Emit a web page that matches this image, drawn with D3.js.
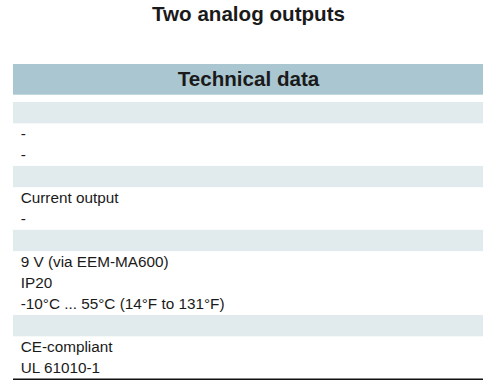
<!DOCTYPE html>
<html>
<head>
<meta charset="utf-8">
<script src="https://cdn.jsdelivr.net/npm/d3@7"></script>
<style>
  html, body { margin: 0; padding: 0; background: #ffffff; }
  svg { display: block; }
</style>
</head>
<body>
<script>
// ---- data ----
const chartTitle = "Two analog outputs";
const tableHeader = "Technical data";
const rowTexts = [
  "", "-", "-",
  "", "Current output", "-",
  "", "9 V (via EEM-MA600)", "IP20", "-10°C ... 55°C (14°F to 131°F)",
  "", "CE-compliant", "UL 61010-1"
];
const rowKinds = [
  "section", "item", "item",
  "section", "item", "item",
  "section", "item", "item", "item",
  "section", "item", "item"
];

// ---- layout ----
const W = 486, H = 380;
const left = 13, right = 483;
const headerTop = 64, headerBottom = 94.7;
const rowsTop = 102, rowH = 21.3;

const svg = d3.select("body").append("svg")
  .attr("width", W).attr("height", H);

const font = "'Liberation Sans', Arial, Helvetica, sans-serif";

svg.append("text")
  .attr("x", (left + right) / 2 + 0.5)
  .attr("y", 21)
  .attr("text-anchor", "middle")
  .attr("font-family", font)
  .attr("font-weight", "bold")
  .attr("font-size", 20.6)
  .attr("fill", "#1a1a1a")
  .text(chartTitle);

svg.append("rect")
  .attr("x", left).attr("y", headerTop)
  .attr("width", right - left).attr("height", headerBottom - headerTop)
  .attr("fill", "#a9c6d1");

svg.append("text")
  .attr("x", (left + right) / 2 + 0.5)
  .attr("y", 86)
  .attr("text-anchor", "middle")
  .attr("font-family", font)
  .attr("font-weight", "bold")
  .attr("font-size", 20.6)
  .attr("fill", "#1a1a1a")
  .text(tableHeader);

const y = d3.scaleBand()
  .domain(d3.range(rowTexts.length))
  .range([rowsTop, rowsTop + rowH * rowTexts.length])
  .paddingInner(0).paddingOuter(0);

const rows = svg.append("g").selectAll("g")
  .data(rowTexts.map((t, i) => ({ text: t, kind: rowKinds[i], i })))
  .join("g")
  .attr("transform", d => `translate(0,${y(d.i)})`);

rows.filter(d => d.kind === "section")
  .append("rect")
  .attr("x", left).attr("y", 0)
  .attr("width", right - left).attr("height", y.bandwidth())
  .attr("fill", "#e1ebee");

rows.filter(d => d.kind === "item")
  .append("text")
  .attr("x", left + 7.7)
  .attr("y", 15.8)
  .attr("font-family", font)
  .attr("font-size", 15.3)
  .attr("fill", "#1a1a1a")
  .text(d => d.text);

svg.append("line")
  .attr("x1", left).attr("x2", right)
  .attr("y1", y.range()[1] + 0.3).attr("y2", y.range()[1] + 0.3)
  .attr("stroke", "#111")
  .attr("stroke-width", 1.6);
</script>
</body>
</html>
